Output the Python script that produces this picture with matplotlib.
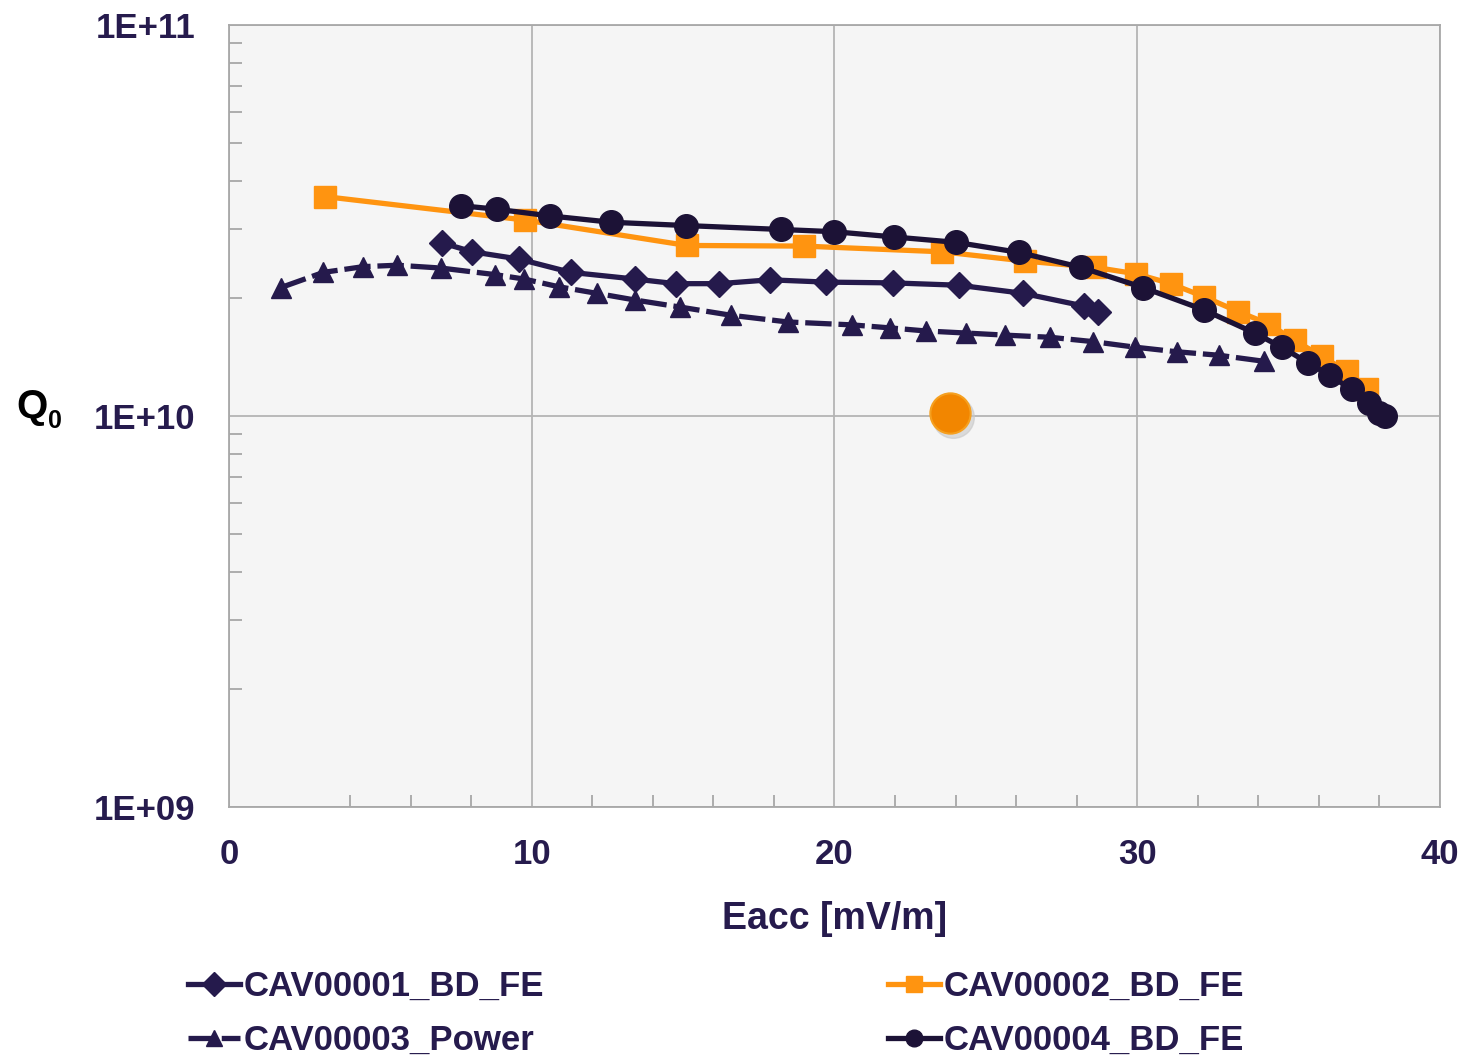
import matplotlib.pyplot as plt
from matplotlib.ticker import FixedLocator, NullFormatter
from matplotlib.transforms import ScaledTranslation
import numpy as np

plt.rcParams['font.family'] = ['Liberation Sans', 'DejaVu Sans']
plt.rcParams['font.weight'] = 'bold'

# Eacc [MV/m] and Q0 for each cavity
eacc_1 = [7.05, 8.04, 9.58, 11.29, 13.41, 14.75, 16.2, 17.86, 19.73, 21.92, 24.11, 26.22, 28.25, 28.72]
q0_1 = [2.77e10, 2.63e10, 2.52e10, 2.33e10, 2.24e10, 2.18e10, 2.18e10, 2.23e10, 2.20e10,
        2.19e10, 2.16e10, 2.06e10, 1.91e10, 1.84e10]

eacc_2 = [3.18, 9.79, 15.12, 18.98, 23.56, 26.3, 28.61, 29.97, 31.11, 32.2, 33.33, 34.34,
          35.2, 36.11, 36.92, 37.58]
q0_2 = [3.64e10, 3.17e10, 2.73e10, 2.72e10, 2.63e10, 2.49e10, 2.40e10, 2.31e10, 2.18e10,
        2.02e10, 1.85e10, 1.72e10, 1.56e10, 1.42e10, 1.30e10, 1.17e10]

eacc_3 = [1.71, 3.12, 4.44, 5.56, 7.0, 8.78, 9.75, 10.9, 12.14, 13.41, 14.89, 16.58, 18.45,
          20.59, 21.84, 23.02, 24.34, 25.64, 27.11, 28.53, 29.92, 31.3, 32.7, 34.19]
q0_3 = [2.13e10, 2.33e10, 2.41e10, 2.43e10, 2.39e10, 2.30e10, 2.24e10, 2.14e10, 2.06e10,
        1.98e10, 1.90e10, 1.81e10, 1.74e10, 1.71e10, 1.68e10, 1.65e10, 1.63e10, 1.61e10,
        1.59e10, 1.55e10, 1.50e10, 1.46e10, 1.43e10, 1.38e10]

eacc_4 = [7.67, 8.84, 10.59, 12.63, 15.08, 18.22, 20.0, 21.97, 24.03, 26.1, 28.14, 30.2,
          32.19, 33.88, 34.77, 35.63, 36.36, 37.08, 37.64, 38.0, 38.2]
q0_4 = [3.45e10, 3.38e10, 3.25e10, 3.13e10, 3.07e10, 3.00e10, 2.96e10, 2.87e10, 2.78e10,
        2.62e10, 2.40e10, 2.13e10, 1.87e10, 1.63e10, 1.50e10, 1.37e10, 1.27e10, 1.17e10,
        1.08e10, 1.02e10, 1.00e10]

# single spec point
spec_eacc = [23.82]
spec_q0 = [1.02e10]

labels = ['CAV00001_BD_FE', 'CAV00002_BD_FE', 'CAV00003_Power', 'CAV00004_BD_FE']
x_ticks = [0, 10, 20, 30, 40]
y_ticks = [1e9, 1e10, 1e11]
y_ticklabels = ['1E+09', '1E+10', '1E+11']

navy = '#251a4c'
dark = '#1c1236'
orange = '#ff9410'
text_col = '#261b4d'

fig = plt.figure(figsize=(14.65, 10.6), dpi=100)
ax = fig.add_axes([0.1563, 0.2387, 0.8266, 0.7377])
ax.set_facecolor('#f5f5f5')

l1, = ax.plot(eacc_1, q0_1, color=navy, lw=3.8, marker='D', ms=13, zorder=4)
l2, = ax.plot(eacc_2, q0_2, color=orange, lw=3.8, marker='s', ms=16, zorder=3)
l3, = ax.plot(eacc_3, q0_3, color=navy, lw=3.8, marker='^', ms=15, zorder=4)
l3.set_dashes([5, 1.3])
l4, = ax.plot(eacc_4, q0_4, color=dark, lw=3.8, marker='o', ms=17, zorder=5)

# spec point with a soft shadow
shadow = ax.transData + ScaledTranslation(2/72, -3/72, fig.dpi_scale_trans)
ax.plot(spec_eacc, spec_q0, 'o', ms=30, color='#c8c8c8', alpha=0.6, zorder=2, transform=shadow)
ax.plot(spec_eacc, spec_q0, 'o', ms=29, color='#f28600', mec='#f5a020', mew=1.5, zorder=3)

ax.set_yscale('log')
ax.set_xlim(0, 40)
ax.set_ylim(1e9, 1e11)
ax.set_xticks(x_ticks)
ax.set_xticks(np.arange(4, 40, 2), minor=True)
ax.set_yticks(y_ticks)
ax.set_yticklabels(y_ticklabels)
ax.yaxis.set_minor_locator(FixedLocator([m * d for d in (1e9, 1e10) for m in range(2, 10)]))
ax.yaxis.set_minor_formatter(NullFormatter())

ax.grid(True, which='major', color='#b4b4b4', lw=1.3)
ax.set_axisbelow(True)
for s in ax.spines.values():
    s.set_color('#a8a8a8')
    s.set_linewidth(1.3)

ax.tick_params(which='both', direction='in', color='#a0a0a0', width=1.2, labelcolor=text_col,
               labelsize=25)
ax.tick_params(which='major', length=0)
ax.tick_params(which='minor', length=9)
ax.tick_params(axis='y', pad=24)
ax.tick_params(axis='x', pad=22)

ax.set_xlabel('Eacc [mV/m]', fontsize=27, color=text_col, fontweight='bold', labelpad=22)
fig.text(0.011, 0.606, 'Q', fontsize=29, color='black', fontweight='bold')
fig.text(0.033, 0.596, '0', fontsize=18, color='black', fontweight='bold')

# row-major legend order: 1, 2 / 3, 4
leg = fig.legend([l1, l3, l2, l4], [labels[0], labels[2], labels[1], labels[3]], ncol=2,
                 loc='upper left', bbox_to_anchor=(0.107, 0.1142), frameon=False, fontsize=25,
                 handlelength=1.5, handletextpad=0.1, columnspacing=9.9,
                 labelspacing=0.6, labelcolor=text_col)
for h in leg.legend_handles:
    h.set_markersize(12)

fig.savefig('out.png', dpi=100)
